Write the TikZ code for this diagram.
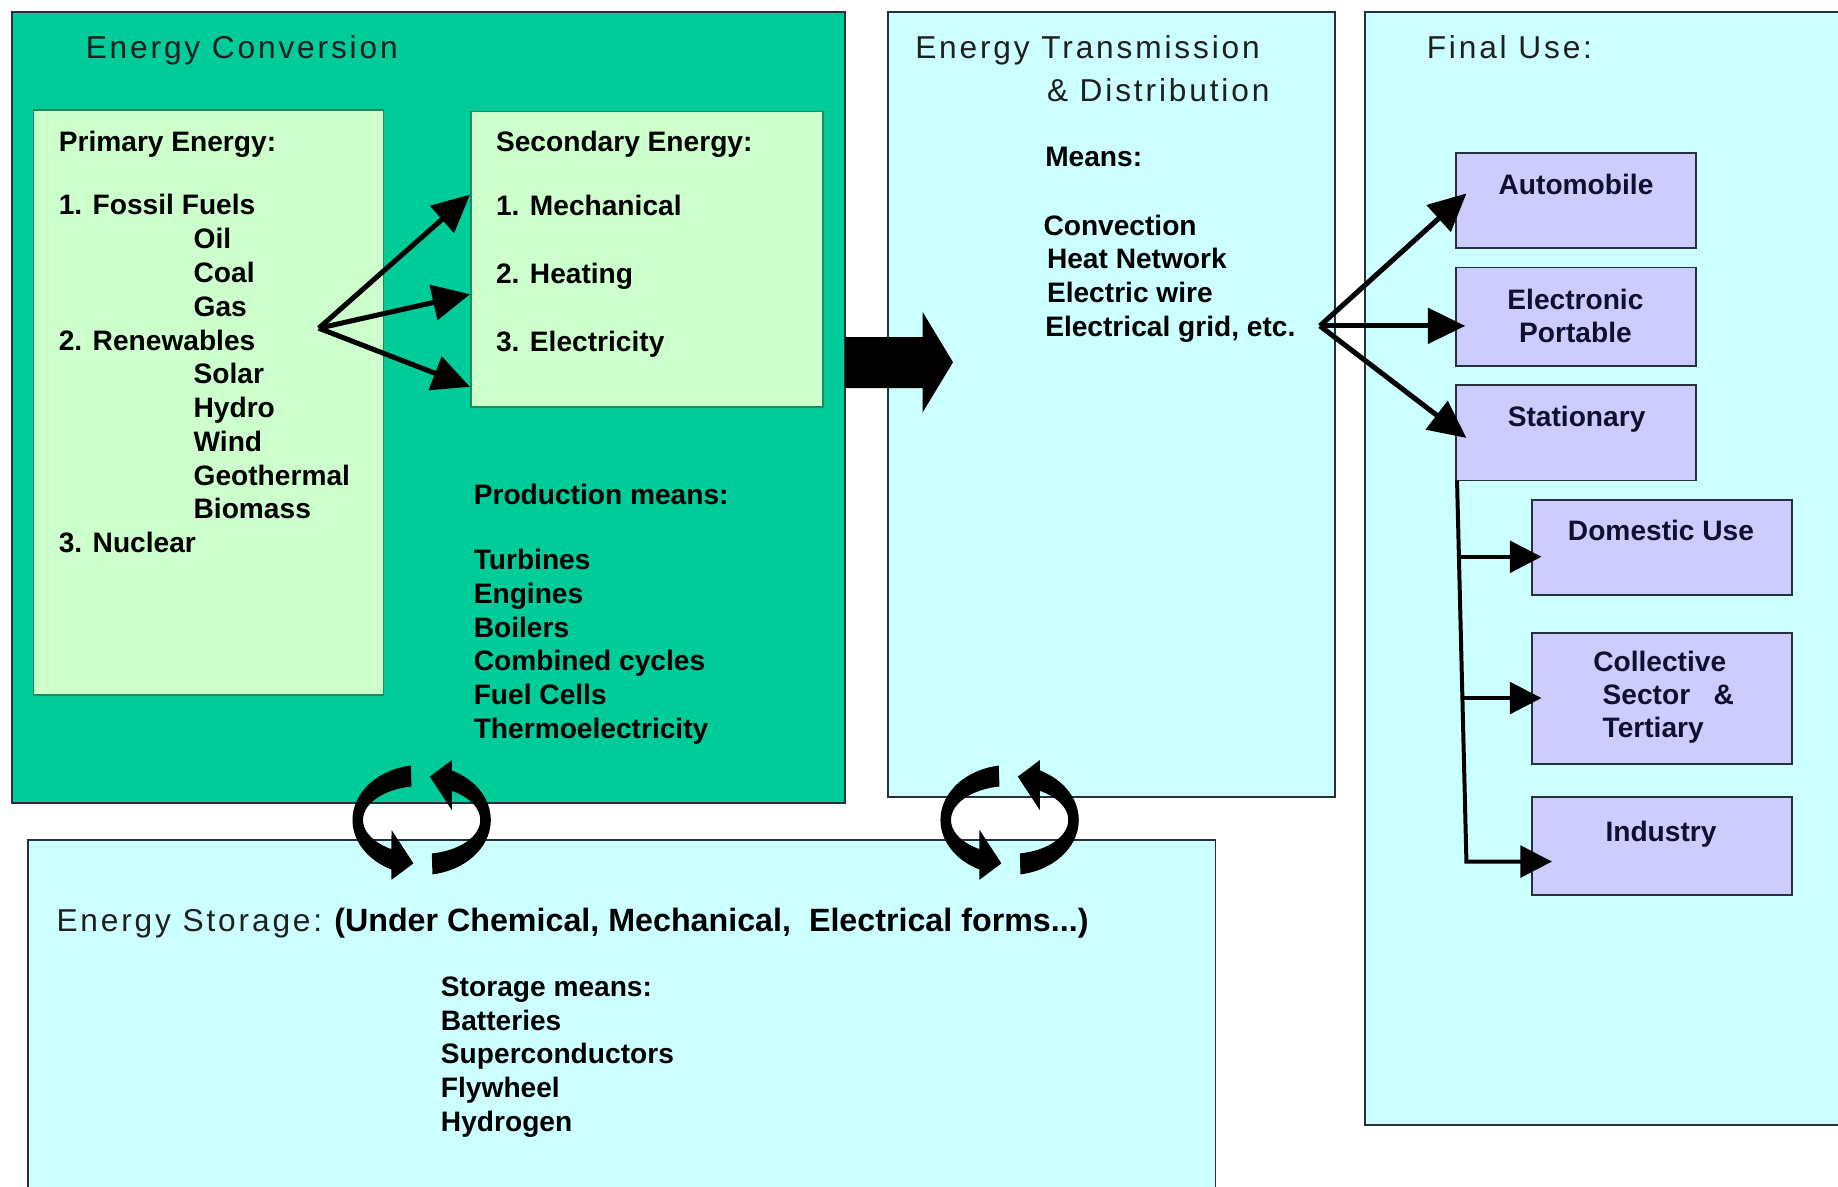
\documentclass[tikz,border=0pt]{standalone}
\usepackage{fontspec}
\setmainfont{Liberation Sans}
\newfontfamily\thinfont[LetterSpace=9]{Liberation Sans}
\usetikzlibrary{arrows.meta}
\definecolor{convgreen}{HTML}{00CC99}
\definecolor{palegreen}{HTML}{CCFFCC}
\definecolor{palecyan}{HTML}{CCFFFF}
\definecolor{lavend}{HTML}{CCCCFF}
\definecolor{edgedark}{HTML}{26303A}
\definecolor{edgegreen}{HTML}{1E8A5E}
\definecolor{inkblue}{HTML}{10102E}
\begin{document}
\begin{tikzpicture}[x=1pt,y=-1pt,
  panel/.style={draw=edgedark, line width=1.5pt, inner sep=0pt, outer sep=0pt},
  inbox/.style={draw=edgegreen, line width=1.3pt, fill=palegreen, inner sep=0pt, outer sep=0pt},
  usebox/.style={draw=edgedark, line width=1.5pt, fill=lavend, inner sep=0pt, outer sep=0pt},
  title/.style={font=\thinfont\fontsize{27}{32}\selectfont, text=black!88, anchor=base west, inner sep=0pt},
  body/.style={font=\bfseries\fontsize{24}{28.8}\selectfont, anchor=base west, inner sep=0pt, align=left},
  bigbold/.style={font=\bfseries\fontsize{27.5}{32}\selectfont, anchor=base west, inner sep=0pt},
  usetext/.style={font=\bfseries\fontsize{24}{28}\selectfont, text=inkblue, anchor=base, inner sep=0pt, align=center},
  fan/.style={line width=4.3pt, -{Triangle[length=32pt,width=30pt]}},
  branch/.style={line width=3.4pt, line join=miter, -{Triangle[length=27pt,width=27pt]}},
  cyclearrows/.pic={
    \foreach \r in {0,180}{
      \fill[black, rotate=\r] plot[domain=99:244, samples=40] ({59*cos(\x)},{-47*sin(\x)})
        -- (-25.7,51) -- (-7,37) -- (-25.7,8.5)
        -- plot[domain=239:100, samples=40] ({50*cos(\x)},{-29*sin(\x)}) -- cycle;
    }
  }
]
\fill[white] (0,0) rectangle (1568,1012);
\useasboundingbox (0,0) rectangle (1568,1012);
\clip (0,0) rectangle (1568,1012);

% panels
\node[panel, fill=convgreen, minimum width=711pt, minimum height=675pt] (conv) at (365.5,347.5) {};
\node[panel, fill=palecyan, minimum width=381.5pt, minimum height=670pt] (trans) at (948.25,345) {};
\node[panel, fill=palecyan, minimum width=435.5pt, minimum height=950pt] (final) at (1382.25,485) {};
\node[panel, fill=palecyan, minimum width=1013pt, minimum height=323.5pt] (stor) at (530.5,878.25) {};

% inner boxes
\node[inbox, minimum width=298.5pt, minimum height=499pt] (prim) at (177.75,343.5) {};
\node[inbox, minimum width=300pt, minimum height=252pt] (sec) at (552,221) {};

\node[usebox, minimum width=205pt, minimum height=81pt] (auto) at (1344.5,171.15) {};
\node[usebox, minimum width=205pt, minimum height=83.7pt] (elec) at (1344.5,270.15) {};
\node[usebox, minimum width=205pt, minimum height=81.5pt] (stat) at (1344.5,369.25) {};
\node[usebox, minimum width=221.5pt, minimum height=81.1pt] (dom) at (1417.75,467.05) {};
\node[usebox, minimum width=221.5pt, minimum height=111.8pt] (coll) at (1417.75,595.9) {};
\node[usebox, minimum width=221.5pt, minimum height=83.9pt] (ind) at (1417.75,721.55) {};

% titles
\node[title] (convT) at (73,50) {Energy Conversion};
\node[title] (transT) at (780.6,50) {Energy Transmission};
\node[title] (transT2) at (893,86.7) {\& Distribution};
\node[title] (finalT) at (1217,50) {Final Use:};
\node[title] (storT) at (48,795) {Energy Storage:};
\node[bigbold] (storT2) at (285,795) {(Under Chemical, Mechanical,\ \ Electrical forms...)};

% text blocks (multi-line nodes: base anchor is the last line)
\node[body] (primT) at (50,471.4) {Primary Energy:\\[25.2pt]
1. Fossil Fuels\\
\hspace*{115pt}Oil\\
\hspace*{115pt}Coal\\
\hspace*{115pt}Gas\\
2. Renewables\\
\hspace*{115pt}Solar\\
\hspace*{115pt}Hydro\\
\hspace*{115pt}Wind\\
\hspace*{115pt}Geothermal\\
\hspace*{115pt}Biomass\\
3. Nuclear};

\node[body] (secT) at (423,300) {Secondary Energy:\\[25.8pt]
1. Mechanical\\[29.2pt]
2. Heating\\[29.2pt]
3. Electricity};

\node[body] (prodT) at (404,630) {Production means:\\[27.2pt]
Turbines\\ Engines\\ Boilers\\ Combined cycles\\ Fuel Cells\\ Thermoelectricity};

\node[body] (meansT) at (891.5,142.2) {Means:};
\node[body] (meansL) at (890,286.9) {Convection\\
\hspace*{3pt}Heat Network\\
\hspace*{3pt}Electric wire\\
\hspace*{1.5pt}Electrical grid, etc.};

\node[body] (storL) at (376,965.2) {Storage means:\\ Batteries\\ Superconductors\\ Flywheel\\ Hydrogen};

% final use texts
\node[usetext] (autoT) at (1344.5,166) {Automobile};
\node[usetext] (elecT) at (1344,292) {Electronic\\Portable};
\node[usetext] (statT) at (1345,364) {Stationary};
\node[usetext] (domT) at (1417,461) {Domestic Use};
\node[usetext, anchor=base west, align=left] (collT) at (1359,629) {Collective\\
\hspace*{8pt}Sector\hspace*{20pt}\&\\
\hspace*{8pt}Tertiary};
\node[usetext] (indT) at (1417,718) {Industry};

% left fan
\coordinate (lfan) at (272,280);
\coordinate (s1) at (401,166);
\coordinate (s2) at (401,251);
\coordinate (s3) at (401,330);
\draw[fan] (lfan) -- (s1);
\draw[fan] (lfan) -- (s2);
\draw[fan] (lfan) -- (s3);

% right fan
\coordinate (rfan) at (1126,278);
\coordinate (u1) at (1251,165);
\coordinate (u2) at (1250,278);
\coordinate (u3) at (1251,373.6);
\draw[fan] (rfan) -- (u1);
\draw[fan] (rfan) -- (u2);
\draw[fan] (rfan) -- (u3);

% stationary branches
\coordinate (b0) at (1243,410);
\coordinate (b1) at (1244.6,475);
\coordinate (b2) at (1247.6,595.5);
\coordinate (b3) at (1251,735);
\draw[branch] (b0) -- (b3) -- (1324,735);
\draw[branch] (b1) -- (1315,475);
\draw[branch] (b2) -- (1315,595.5);

% block arrow conversion -> transmission
\fill[black] (conv.east |- 0,287.5) -- (787,287.5) -- (787,266) -- (813,309) -- (787,352) -- (787,331) -- (conv.east |- 0,331) -- cycle;

% cycle arrows
\pic (cycL) at (359.7,699.5) {cyclearrows};
\pic (cycR) at (861.3,699.5) {cyclearrows};
\end{tikzpicture}
\end{document}
